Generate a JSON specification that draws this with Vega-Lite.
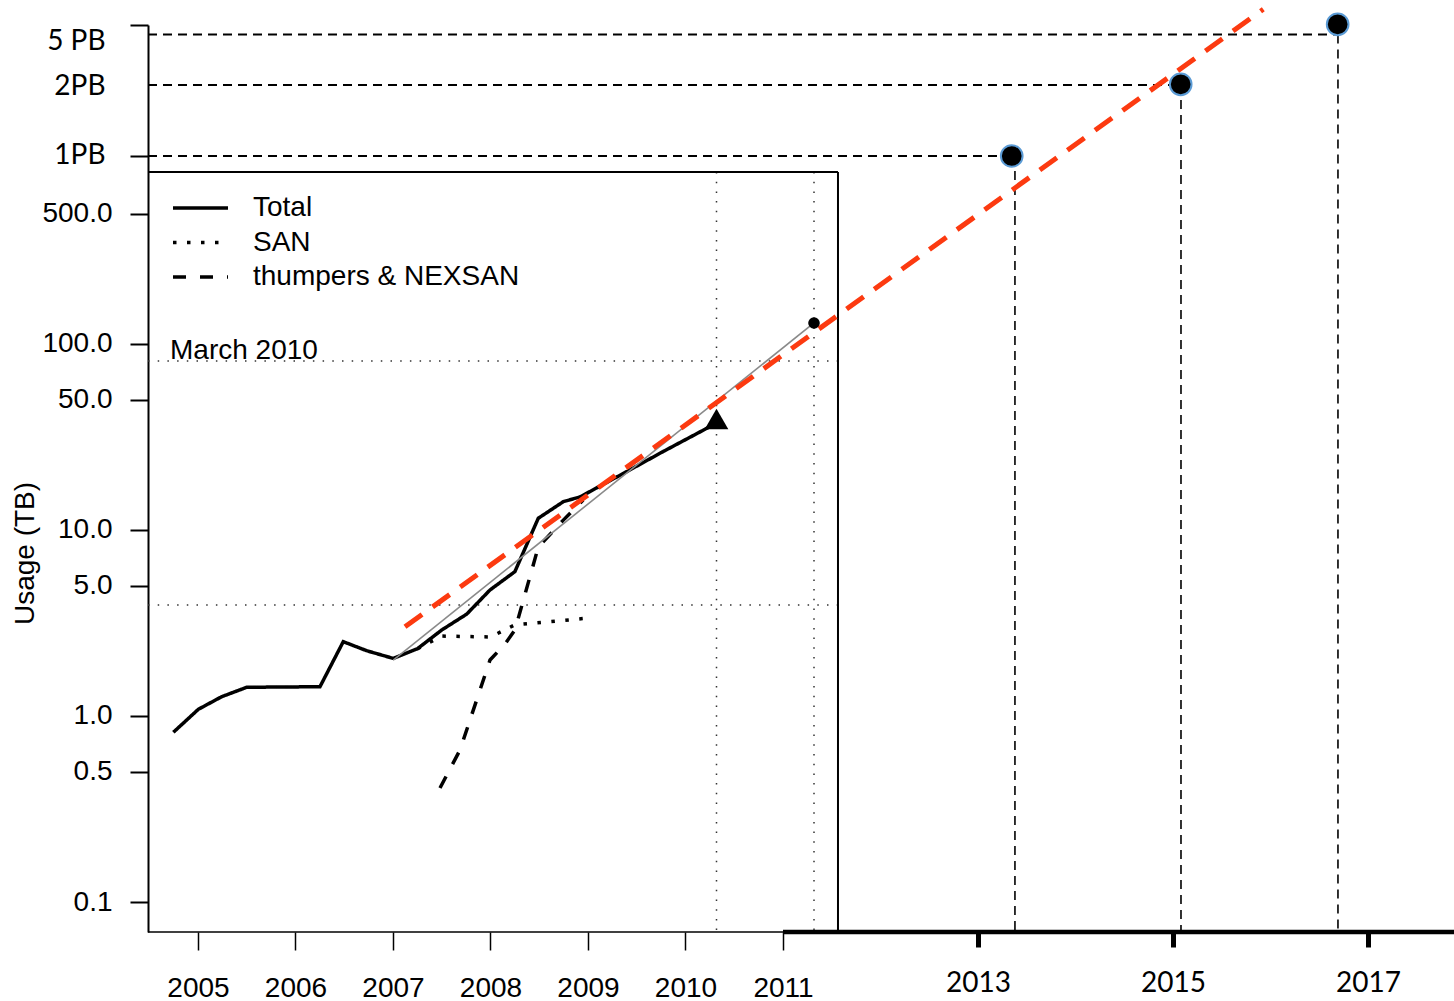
{
  "$schema": "https://vega.github.io/schema/vega-lite/v6.json",
  "width": 1306,
  "height": 907,
  "autosize": {"type": "none"},
  "padding": {"left": 148, "top": 25, "right": 0, "bottom": 69},
  "background": "white",
  "config": {"view": {"stroke": null}, "font": "Liberation Sans"},
  "datasets": {
    "usage": [
      {"series": "Total", "year": 2004.747, "tb": 0.817},
      {"series": "Total", "year": 2005.003, "tb": 1.086},
      {"series": "Total", "year": 2005.243, "tb": 1.27},
      {"series": "Total", "year": 2005.5, "tb": 1.427},
      {"series": "Total", "year": 2006.251, "tb": 1.437},
      {"series": "Total", "year": 2006.49, "tb": 2.51},
      {"series": "Total", "year": 2006.73, "tb": 2.244},
      {"series": "Total", "year": 2007.003, "tb": 2.04},
      {"series": "Total", "year": 2007.251, "tb": 2.3},
      {"series": "Total", "year": 2007.5, "tb": 2.9},
      {"series": "Total", "year": 2007.756, "tb": 3.53},
      {"series": "Total", "year": 2007.995, "tb": 4.76},
      {"series": "Total", "year": 2008.25, "tb": 5.97},
      {"series": "Total", "year": 2008.49, "tb": 11.56},
      {"series": "Total", "year": 2008.747, "tb": 14.2},
      {"series": "Total", "year": 2008.918, "tb": 15.06},
      {"series": "Total", "year": 2009.397, "tb": 20.6},
      {"series": "Total", "year": 2009.77, "tb": 26.4},
      {"series": "Total", "year": 2010.2, "tb": 34.8},
      {"series": "Total", "year": 2010.318, "tb": 37.6},
      {"series": "SAN", "year": 2007.251, "tb": 2.3},
      {"series": "SAN", "year": 2007.5, "tb": 2.69},
      {"series": "SAN", "year": 2008.0, "tb": 2.66},
      {"series": "SAN", "year": 2008.25, "tb": 3.09},
      {"series": "SAN", "year": 2008.95, "tb": 3.34},
      {"series": "thumpers & NEXSAN", "year": 2007.482, "tb": 0.41},
      {"series": "thumpers & NEXSAN", "year": 2007.687, "tb": 0.656},
      {"series": "thumpers & NEXSAN", "year": 2007.995, "tb": 2.0},
      {"series": "thumpers & NEXSAN", "year": 2008.149, "tb": 2.44},
      {"series": "thumpers & NEXSAN", "year": 2008.251, "tb": 2.9},
      {"series": "thumpers & NEXSAN", "year": 2008.49, "tb": 8.1},
      {"series": "thumpers & NEXSAN", "year": 2008.747, "tb": 11.3},
      {"series": "thumpers & NEXSAN", "year": 2008.95, "tb": 14.5}
    ],
    "latest": [{"year": 2010.318, "tb": 37.6}],
    "fit": [{"year": 2007.003, "tb": 2.0}, {"year": 2011.318, "tb": 129.7}],
    "fitEnd": [{"year": 2011.318, "tb": 129.7}],
    "projection": [{"year": 2007.123, "tb": 3.02}, {"year": 2015.926, "tb": 6302}],
    "targets": [
      {"year": 2013.346, "tb": 1025},
      {"year": 2015.079, "tb": 2490},
      {"year": 2016.689, "tb": 5234}
    ],
    "guides": [
      {"year": 2004.4872, "year2": 2016.68, "tb": 4613, "tb2": 4613},
      {"year": 2004.4872, "year2": 2015.0, "tb": 2469, "tb2": 2469},
      {"year": 2004.4872, "year2": 2013.3, "tb": 1025, "tb2": 1025}
    ],
    "drops": [
      {"year": 2013.379, "year2": 2013.379, "tb": 1025, "tb2": 0.06898},
      {"year": 2015.082, "year2": 2015.082, "tb": 2469, "tb2": 0.06898},
      {"year": 2016.692, "year2": 2016.692, "tb": 4613, "tb2": 0.06898}
    ],
    "refs": [
      {"year": 2004.4872, "year2": 2011.564, "tb": 81, "tb2": 81},
      {"year": 2004.4872, "year2": 2011.564, "tb": 3.95, "tb2": 3.95},
      {"year": 2010.318, "year2": 2010.318, "tb": 840.9, "tb2": 0.06898},
      {"year": 2011.318, "year2": 2011.318, "tb": 840.9, "tb2": 0.06898}
    ],
    "box": [
      {"year": 2004.4872, "year2": 2011.564, "tb": 840.9, "tb2": 840.9},
      {"year": 2011.564, "year2": 2011.564, "tb": 840.9, "tb2": 0.06898}
    ],
    "baseThin": [{"year": 2004.4872, "year2": 2011.0, "tb": 0.06898, "tb2": 0.06898}],
    "baseThick": [{"year": 2011.0, "year2": 2017.8821, "tb": 0.06898, "tb2": 0.06898}],
    "notes": [{"year": 2004.7128, "tb": 83.1, "label": "March 2010"}]
  },
  "encoding": {
    "x": {
      "field": "year",
      "type": "quantitative",
      "scale": {"domain": [2004.4872, 2017.8821], "nice": false, "zero": false},
      "axis": {
        "title": null,
        "values": [2005, 2006, 2007, 2008, 2009, 2010, 2011, 2013, 2015, 2017],
        "format": "d",
        "domain": false,
        "grid": false,
        "tickSize": {"condition": {"test": "datum.value > 2012", "value": 15}, "value": 18},
        "tickColor": "black",
        "tickWidth": {"condition": {"test": "datum.value > 2012", "value": 5}, "value": 1.5},
        "labelFont": {"condition": {"test": "datum.value > 2012", "value": "Lato"}, "value": "Liberation Sans"},
        "labelFontSize": 28,
        "labelColor": "black",
        "labelPadding": {"condition": {"test": "datum.value > 2012", "value": 22}, "value": 24},
        "labelFlush": false,
        "labelOverlap": false
      }
    },
    "y": {
      "field": "tb",
      "type": "quantitative",
      "scale": {"type": "log", "domain": [0.06898, 5188], "nice": false},
      "axis": {
        "title": "Usage (TB)",
        "titleFont": "Liberation Sans",
        "titleFontSize": 28,
        "titleFontWeight": "normal",
        "titleColor": "black",
        "titleAngle": 270,
        "titleAlign": "center",
        "titleBaseline": "middle",
        "titleX": -123,
        "titleY": 528,
        "values": [0.1, 0.5, 1, 5, 10, 50, 100, 500, 1025, 2409, 4206, 5188],
        "labelExpr": "datum.value > 5000 ? '' : datum.value > 4000 ? '5 PB' : datum.value > 2000 ? '2PB' : datum.value > 1000 ? '1PB' : format(datum.value, '.1f')",
        "labelFont": {"condition": {"test": "datum.value > 1000", "value": "Lato"}, "value": "Liberation Sans"},
        "labelFontSize": 28,
        "labelColor": "black",
        "labelPadding": {"condition": {"test": "datum.value > 1000", "value": 25}, "value": 18},
        "labelFlush": false,
        "labelOverlap": false,
        "labelBound": false,
        "grid": false,
        "domainColor": "black",
        "domainWidth": 2,
        "tickColor": "black",
        "tickWidth": 2,
        "tickSize": 18,
        "tickOpacity": {"condition": {"test": "datum.value > 2000 && datum.value < 5000", "value": 0}, "value": 1}
      }
    }
  },
  "layer": [
    {
      "data": {"name": "refs"},
      "mark": {"type": "rule", "color": "#333333", "strokeWidth": 1.5, "strokeDash": [1.5, 8.2]},
      "encoding": {"x2": {"field": "year2"}, "y2": {"field": "tb2"}}
    },
    {
      "data": {"name": "guides"},
      "mark": {"type": "rule", "color": "black", "strokeWidth": 2, "strokeDash": [9, 6]},
      "encoding": {"x2": {"field": "year2"}, "y2": {"field": "tb2"}}
    },
    {
      "data": {"name": "drops"},
      "mark": {"type": "rule", "color": "black", "strokeWidth": 1.6, "strokeDash": [9, 6]},
      "encoding": {"x2": {"field": "year2"}, "y2": {"field": "tb2"}}
    },
    {
      "data": {"name": "box"},
      "mark": {"type": "rule", "color": "black", "strokeWidth": 2},
      "encoding": {"x2": {"field": "year2"}, "y2": {"field": "tb2"}}
    },
    {
      "data": {"name": "baseThin"},
      "mark": {"type": "rule", "color": "black", "strokeWidth": 1.5},
      "encoding": {"x2": {"field": "year2"}, "y2": {"field": "tb2"}}
    },
    {
      "data": {"name": "baseThick"},
      "mark": {"type": "rule", "color": "black", "strokeWidth": 4.5},
      "encoding": {"x2": {"field": "year2"}, "y2": {"field": "tb2"}}
    },
    {
      "data": {"name": "usage"},
      "mark": {"type": "line", "color": "black", "strokeWidth": 3.5, "strokeCap": "butt"},
      "encoding": {
        "strokeDash": {
          "field": "series",
          "type": "nominal",
          "sort": ["Total", "SAN", "thumpers & NEXSAN"],
          "scale": {"domain": ["Total", "SAN", "thumpers & NEXSAN"], "range": [[1, 0], [3.5, 10.5], [13, 14]]},
          "legend": {
            "title": null,
            "orient": "none",
            "legendX": 23,
            "legendY": 169,
            "padding": 0,
            "symbolType": "stroke",
            "symbolSize": 3025,
            "symbolStrokeWidth": 3.5,
            "symbolStrokeColor": "black",
            "labelFont": "Liberation Sans",
            "labelFontSize": 28,
            "labelColor": "black",
            "labelOffset": 23,
            "labelLimit": 600,
            "clipHeight": 28,
            "rowPadding": 6.5
          }
        }
      }
    },
    {
      "data": {"name": "fit"},
      "mark": {"type": "line", "color": "#8a8a8a", "strokeWidth": 1.6}
    },
    {
      "data": {"name": "projection"},
      "mark": {"type": "line", "color": "#fc3a10", "strokeWidth": 5, "strokeDash": [21, 13], "strokeCap": "butt"}
    },
    {
      "data": {"name": "latest"},
      "mark": {"type": "point", "shape": "triangle-up", "filled": true, "color": "black", "opacity": 1, "size": 560, "yOffset": -4}
    },
    {
      "data": {"name": "fitEnd"},
      "mark": {"type": "circle", "color": "black", "opacity": 1, "size": 135}
    },
    {
      "data": {"name": "targets"},
      "mark": {"type": "circle", "fill": "black", "fillOpacity": 1, "opacity": 1, "stroke": "#5b9bd5", "strokeWidth": 2, "size": 470}
    },
    {
      "data": {"name": "notes"},
      "mark": {"type": "text", "align": "left", "baseline": "alphabetic", "font": "Liberation Sans", "fontSize": 28, "color": "black"},
      "encoding": {"text": {"field": "label"}}
    }
  ]
}
